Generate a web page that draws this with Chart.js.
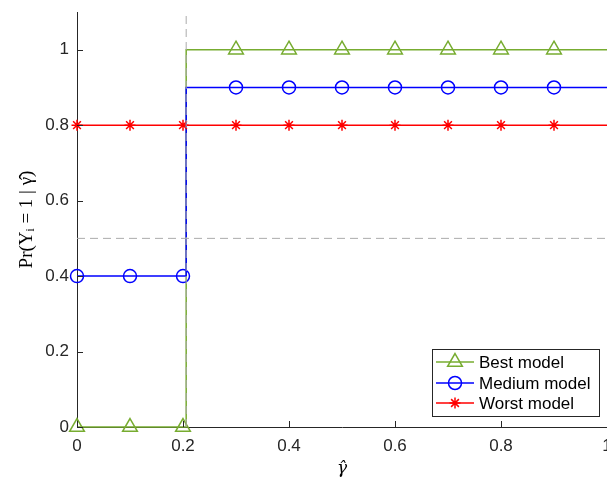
<!DOCTYPE html>
<html>
<head>
<meta charset="utf-8">
<script src="https://cdn.jsdelivr.net/npm/chart.js@4/dist/chart.umd.min.js"></script>
<style>
  html, body { margin: 0; padding: 0; background: #ffffff; overflow: hidden; }
  #wrap { width: 607px; height: 479px; }
</style>
</head>
<body>
<div id="wrap"><canvas id="c" width="607" height="479"></canvas></div>
<script>
// ---- data ----
const xs = [0, 0.1, 0.2, 0.3, 0.4, 0.5, 0.6, 0.7, 0.8, 0.9];
const bestModel   = [0, 0, 0, 1, 1, 1, 1, 1, 1, 1];
const mediumModel = [0.4, 0.4, 0.4, 0.9, 0.9, 0.9, 0.9, 0.9, 0.9, 0.9];
const worstModel  = [0.8, 0.8, 0.8, 0.8, 0.8, 0.8, 0.8, 0.8, 0.8, 0.8];
const seriesNames = ['Best model', 'Medium model', 'Worst model'];
const stepX = 0.206;        // where the step jumps (just right of 0.2)
const lineEndX = 1;         // lines continue to the right edge
const thresholdX = 0.206;   // vertical dashed reference line
const halfLevel = 0.5;      // horizontal dashed reference line
const xTickStep = 0.2;
const yTickStep = 0.2;

const axisColor = '#262626';
const tickFont = { family: 'Liberation Sans, Arial, sans-serif', size: 17 };

function buildLine(vals) {
  const pts = [];
  for (let i = 0; i < xs.length; i++) {
    pts.push({ x: xs[i], y: vals[i], m: true });
    if (i + 1 < xs.length && xs[i] < stepX && xs[i + 1] > stepX) {
      pts.push({ x: stepX, y: vals[i], m: false });
      pts.push({ x: stepX, y: vals[i + 1], m: false });
    }
  }
  pts.push({ x: lineEndX, y: vals[vals.length - 1], m: false });
  return pts;
}

const styles = [
  { color: '#77AC30', pointStyle: 'triangle', radius: 8.5 },
  { color: '#0000FF', pointStyle: 'circle', radius: 6.5 },
  { color: '#FF0000', pointStyle: 'star', radius: 5.5 }
];
const seriesData = [bestModel, mediumModel, worstModel];
const orders = [3, 2, 1];

const datasets = seriesData.map((vals, k) => ({
  label: seriesNames[k],
  data: buildLine(vals),
  borderColor: styles[k].color,
  backgroundColor: 'rgba(0,0,0,0)',
  borderWidth: 1.5,
  pointStyle: styles[k].pointStyle,
  pointRadius: ctx => (ctx.raw && ctx.raw.m) ? styles[k].radius : 0,
  pointHoverRadius: 0,
  pointBorderColor: styles[k].color,
  pointBackgroundColor: 'rgba(0,0,0,0)',
  pointBorderWidth: 1.5,
  tension: 0,
  clip: false,
  order: orders[k]
}));

datasets.push({
  label: 'threshold',
  data: [{ x: thresholdX, y: 0 }, { x: thresholdX, y: 1.1 }],
  borderColor: '#ababab', borderWidth: 1, borderDash: [8, 5],
  pointRadius: 0, order: 0, clip: false
});
datasets.push({
  label: 'half',
  data: [{ x: 0, y: halfLevel }, { x: lineEndX, y: halfLevel }],
  borderColor: '#ababab', borderWidth: 1, borderDash: [8, 5],
  pointRadius: 0, order: 0, clip: false
});

const inwardTicks = {
  id: 'inwardTicks',
  afterDraw(chart) {
    const ctx = chart.ctx;
    const xs_ = chart.scales.x, ys_ = chart.scales.y;
    const a = chart.chartArea;
    ctx.save();
    ctx.strokeStyle = axisColor;
    ctx.lineWidth = 1;
    ctx.beginPath();
    xs_.ticks.forEach(t => {
      const px = Math.round(xs_.getPixelForValue(t.value)) + 0.5;
      ctx.moveTo(px, a.bottom);
      ctx.lineTo(px, a.bottom - 6);
    });
    ys_.ticks.forEach(t => {
      const py = Math.round(ys_.getPixelForValue(t.value)) + 0.5;
      ctx.moveTo(a.left, py);
      ctx.lineTo(a.left + 6, py);
    });
    ctx.stroke();
    ctx.restore();
  }
};

function drawMarker(ctx, style, x, y, r, color) {
  ctx.save();
  ctx.strokeStyle = color;
  ctx.fillStyle = 'rgba(0,0,0,0)';
  ctx.lineWidth = 1.5;
  if (Chart.helpers && Chart.helpers.drawPoint) {
    Chart.helpers.drawPoint(ctx, { pointStyle: style, radius: r, borderWidth: 1.5, rotation: 0 }, x, y);
  }
  ctx.restore();
}

const customLegend = {
  id: 'customLegend',
  afterDraw(chart) {
    const ctx = chart.ctx;
    const a = chart.chartArea;
    const boxR = a.right - 8, boxB = a.bottom - 11;
    const boxW = 167, boxH = 67;
    const boxL = boxR - boxW, boxT = boxB - boxH;
    ctx.save();
    ctx.fillStyle = '#ffffff';
    ctx.fillRect(boxL, boxT, boxW, boxH);
    ctx.strokeStyle = axisColor;
    ctx.lineWidth = 1;
    ctx.strokeRect(Math.round(boxL) + 0.5, Math.round(boxT) + 0.5, boxW, boxH);
    const rowY = [boxT + 13, boxT + 34, boxT + 54];
    ctx.font = '17px "Liberation Sans", Arial, sans-serif';
    ctx.textBaseline = 'middle';
    ctx.textAlign = 'left';
    seriesNames.forEach((name, k) => {
      const y = rowY[k];
      ctx.strokeStyle = styles[k].color;
      ctx.lineWidth = 1.5;
      ctx.beginPath();
      ctx.moveTo(boxL + 4, y);
      ctx.lineTo(boxL + 42, y);
      ctx.stroke();
      drawMarker(ctx, styles[k].pointStyle, boxL + 23, y, styles[k].radius, styles[k].color);
      ctx.fillStyle = '#000000';
      ctx.fillText(name, boxL + 47, y + 1);
    });
    ctx.restore();
  }
};

const fmt = v => String(Math.round(v * 10) / 10);

function zeroPad(s) {
  s.paddingLeft = 0; s.paddingRight = 0; s.paddingTop = 0; s.paddingBottom = 0;
  if (s._margins) { s._margins.left = 0; s._margins.right = 0; s._margins.top = 0; s._margins.bottom = 0; }
}

new Chart(document.getElementById('c'), {
  type: 'line',
  data: { datasets },
  plugins: [inwardTicks, customLegend],
  options: {
    responsive: false,
    devicePixelRatio: 1,
    animation: false,
    events: [],
    layout: { autoPadding: false, padding: { top: 12, left: 0, right: 0, bottom: 0 } },
    plugins: { legend: { display: false }, tooltip: { enabled: false } },
    scales: {
      x: {
        type: 'linear', min: 0, max: 1,
        grid: { display: false, tickLength: 0 },
        border: { display: true, color: axisColor, width: 1 },
        ticks: { stepSize: xTickStep, color: axisColor, font: tickFont, padding: 9, maxRotation: 0, autoSkip: false, callback: fmt },
        title: { display: true, text: 'γ̂', color: '#000000',
                 font: { family: 'DejaVu Serif, Liberation Serif, serif', size: 17, style: 'italic' },
                 padding: { top: 0, bottom: 0 } },
        afterFit(s) { s.height = 52; zeroPad(s); },
        afterUpdate(s) { zeroPad(s); }
      },
      y: {
        type: 'linear', min: 0, max: 1.1,
        grid: { display: false, tickLength: 0 },
        border: { display: true, color: axisColor, width: 1 },
        ticks: { stepSize: yTickStep, includeBounds: false, color: axisColor, font: tickFont, padding: 8, callback: fmt },
        title: { display: true, text: 'Pr(Yᵢ = 1 | γ̂)', color: '#000000',
                 font: { family: 'Liberation Serif, DejaVu Serif, serif', size: 19 },
                 padding: { top: 16, bottom: 0 } },
        afterFit(s) { s.width = 77; zeroPad(s); },
        afterUpdate(s) { zeroPad(s); }
      }
    }
  }
});
</script>
</body>
</html>
